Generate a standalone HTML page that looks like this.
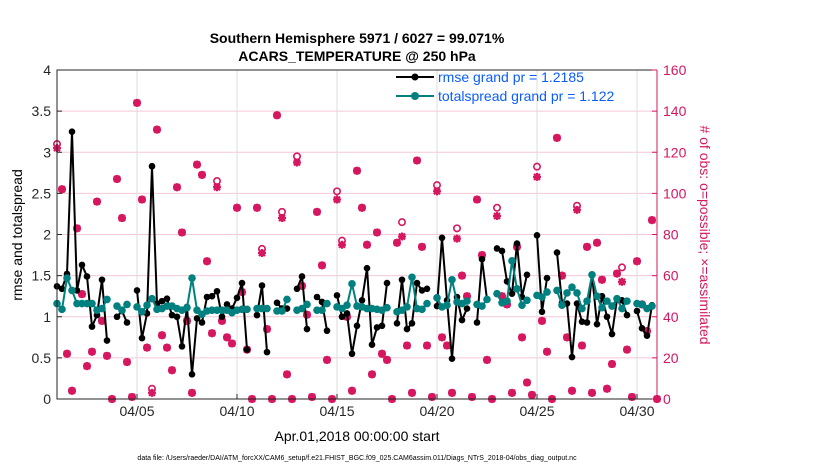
<!DOCTYPE html>
<html><head><meta charset="utf-8"><style>
html,body{margin:0;padding:0;background:#fff;}
svg{display:block;font-family:"Liberation Sans",sans-serif;}
</style></head><body>
<svg id="chart" width="830" height="470" viewBox="0 0 830 470">
<g id="grid"></g>
<g id="obs"></g>
<g id="lines"></g>
<g id="axes"></g>
<text x="357" y="43" text-anchor="middle" font-size="14" font-weight="bold">Southern Hemisphere 5971 / 6027 = 99.071%</text>
<text x="357" y="61" text-anchor="middle" font-size="14" font-weight="bold">ACARS_TEMPERATURE @ 250 hPa</text>
<text transform="translate(22,235) rotate(-90)" text-anchor="middle" font-size="14">rmse and totalspread</text>
<text transform="translate(700,235) rotate(90)" text-anchor="middle" font-size="14" fill="#d6175f"># of obs: o=possible; ×=assimilated</text>
<text x="357" y="441" text-anchor="middle" font-size="14">Apr.01,2018 00:00:00 start</text>
<text x="357" y="460" text-anchor="middle" font-size="7">data file: /Users/raeder/DAI/ATM_forcXX/CAM6_setup/f.e21.FHIST_BGC.f09_025.CAM6assim.011/Diags_NTrS_2018-04/obs_diag_output.nc</text>
<g>
<g>
<line x1="396" y1="77" x2="434" y2="77" stroke="#000" stroke-width="2"/><circle cx="415" cy="77" r="3.5" fill="#000"/>
<text x="438" y="82" font-size="14" fill="#0a5cff">rmse grand pr = 1.2185</text></g>
<g>
<line x1="396" y1="96" x2="434" y2="96" stroke="#00807f" stroke-width="2"/><circle cx="415" cy="96" r="4" fill="#00807f"/>
<text x="438" y="101" font-size="14" fill="#0a5cff">totalspread grand pr = 1.122</text></g>
</g>
</svg>
<script>
const rmse=[1.37,1.34,1.52,3.25,1.32,1.63,1.49,0.88,1.02,1.45,0.71,null,1.0,1.07,0.93,null,1.32,0.74,1.04,2.83,1.16,1.19,1.22,1.02,1.0,0.64,1.12,0.30,0.98,0.93,1.24,1.25,1.31,1.0,1.15,1.1,1.23,1.41,0.6,null,1.02,1.38,0.57,null,1.17,1.1,1.1,null,1.34,1.49,0.85,null,1.24,1.18,0.83,null,1.26,1.0,1.04,0.55,0.89,1.2,1.59,0.66,0.87,0.89,1.41,null,0.92,1.45,0.85,0.92,1.41,1.32,1.34,null,1.13,1.96,1.2,0.49,1.24,0.96,1.1,null,0.93,1.7,1.21,null,1.83,1.8,1.43,1.28,1.89,1.24,1.51,null,1.99,1.06,1.47,null,1.78,1.17,1.16,0.51,1.16,0.94,0.93,1.51,0.91,1.25,1.0,0.79,1.21,1.2,1.02,null,1.07,0.86,0.77,1.14,null];
const spread=[1.16,1.09,1.47,1.32,1.16,1.16,1.16,1.16,1.08,1.1,1.21,null,1.13,1.08,1.15,null,1.12,1.06,1.14,1.22,1.09,1.1,1.13,1.13,1.1,1.08,1.11,1.47,1.08,1.03,1.07,1.08,1.08,1.08,1.08,1.05,1.08,1.09,1.09,null,1.1,1.1,1.1,null,1.07,1.07,1.21,null,1.08,1.1,1.15,null,1.08,1.08,1.16,null,1.12,1.1,1.14,1.4,1.13,1.12,1.1,1.1,1.09,1.08,1.11,null,1.06,1.08,1.12,1.48,1.1,1.09,1.16,null,1.23,1.12,1.14,1.45,1.18,1.16,1.19,null,1.15,1.13,1.21,null,1.28,1.17,1.19,1.68,1.34,1.14,1.2,null,1.26,1.24,1.3,null,1.32,1.14,1.29,1.36,1.29,1.1,1.19,1.51,1.25,1.11,1.19,1.13,1.22,1.1,1.19,null,1.16,1.15,1.1,1.13,null];
const possible=[124,102,22,4,83,51,16,23,96,38,21,0,107,88,18,1,144,97,25,5,131,31,25,14,103,81,38,3,114,109,67,32,106,38,30,27,93,52,24,0,93,73,34,0,138,91,12,0,118,55,41,1,91,65,19,0,101,77,40,4,111,93,75,12,81,22,19,0,76,86,26,3,116,74,26,1,104,30,26,3,83,60,50,1,97,70,19,0,93,50,46,3,74,30,8,2,113,38,23,0,127,60,30,4,94,26,74,3,76,58,5,17,61,64,24,1,67,46,33,87,0];
const assimilated=[122,102,22,4,83,51,16,23,96,38,21,0,107,88,18,1,144,97,25,3,131,31,25,14,103,81,38,3,114,109,67,32,103,38,30,27,93,52,24,0,93,71,34,0,138,88,12,0,115,55,41,1,91,65,19,0,97,75,40,4,111,93,75,12,81,22,19,0,76,79,26,3,116,74,26,1,101,30,26,3,78,60,50,1,97,70,19,0,89,50,46,3,74,30,8,2,108,38,23,0,127,60,30,4,92,26,74,3,76,58,5,17,61,57,24,1,67,46,33,87,0];
const leftTicks=["0","0.5","1","1.5","2","2.5","3","3.5","4"];
const rightTicks=["0","20","40","60","80","100","120","140","160"];
const dateTicks=["04/05","04/10","04/15","04/20","04/25","04/30"];
const dateTickDays=[4,9,14,19,24,29];

const NS="http://www.w3.org/2000/svg";
const X0=57,X1=657,Y0=399,Y1=70;
const xDay=d=>X0+(X1-X0)*d/30;
const xSlot=i=>xDay(i/4);
const yL=v=>Y0-(Y0-Y1)*v/4;
const yR=v=>Y0-(Y0-Y1)*v/160;
function mk(tag,attrs,parent){const e=document.createElementNS(NS,tag);for(const k in attrs)e.setAttribute(k,attrs[k]);parent.appendChild(e);return e;}
const grid=document.getElementById('grid'),axes=document.getElementById('axes'),obs=document.getElementById('obs'),lines=document.getElementById('lines');
const RED="#d6175f";
// grid
leftTicks.forEach((t,i)=>{const y=yL(i*0.5);if(i>0&&i<8){const l=mk('line',{x1:X0,x2:X1,y1:y,y2:y,stroke:'#f4c8d8','stroke-width':1},grid);

}});
dateTickDays.forEach(d=>{const l=mk('line',{x1:xDay(d),x2:xDay(d),y1:Y1,y2:Y0,stroke:'#dcdcdc','stroke-width':1},grid);

});
// axes box
const frame=mk('path',{d:`M${X1},${Y1} L${X0},${Y1} L${X0},${Y0} L${X1},${Y0}`,fill:'none',stroke:'#262626','stroke-width':1},axes);


const rax=mk('line',{x1:X1,x2:X1,y1:Y1,y2:Y0,stroke:RED,'stroke-width':1},axes);


leftTicks.forEach((t,i)=>{const y=yL(i*0.5);
mk('line',{x1:X0,x2:X0+5,y1:y,y2:y,stroke:'#262626'},axes);
const tx=mk('text',{x:X0-6,y:y+5,'text-anchor':'end','font-size':14,fill:'#262626'},axes);tx.textContent=t;

});
rightTicks.forEach((t,i)=>{const y=yR(i*20);
mk('line',{x1:X1-5,x2:X1,y1:y,y2:y,stroke:RED},axes);
const tx=mk('text',{x:X1+6,y:y+5,'font-size':14,fill:RED},axes);tx.textContent=t;

});
dateTicks.forEach((t,i)=>{const x=xDay(dateTickDays[i]);
mk('line',{x1:x,x2:x,y1:Y0,y2:Y0-5,stroke:'#262626'},axes);
const tx=mk('text',{x:x,y:416,'text-anchor':'middle','font-size':14,fill:'#262626'},axes);tx.textContent=t;

});
// obs markers
possible.forEach((v,i)=>{if(v==null)return;const x=xSlot(i);
const c=mk('circle',{cx:x,cy:yR(v),r:3.2,fill:'none',stroke:RED,'stroke-width':1.6},obs);

});
assimilated.forEach((v,i)=>{if(v==null)return;const x=xSlot(i),y=yR(v);
const g=mk('path',{d:`M${x-4},${y}H${x+4}M${x},${y-4}V${y+4}M${x-3},${y-3}L${x+3},${y+3}M${x-3},${y+3}L${x+3},${y-3}`,stroke:RED,'stroke-width':2.2,fill:'none'},obs);

});
// lines
function series(arr,color,r,name){let d='',pen=false;
arr.forEach((v,i)=>{if(v==null){pen=false;return;}d+=(pen?'L':'M')+xSlot(i)+','+yL(v);pen=true;});
const p=mk('path',{d:d,fill:'none',stroke:color,'stroke-width':2,'stroke-linejoin':'round'},lines);


arr.forEach((v,i)=>{if(v==null)return;const c=mk('circle',{cx:xSlot(i),cy:yL(v),r:r,fill:color},lines);

});}
series(rmse,'#000',3.3,'rmse');
series(spread,'#00807f',3.8,'totalspread');
</script>
</body></html>
